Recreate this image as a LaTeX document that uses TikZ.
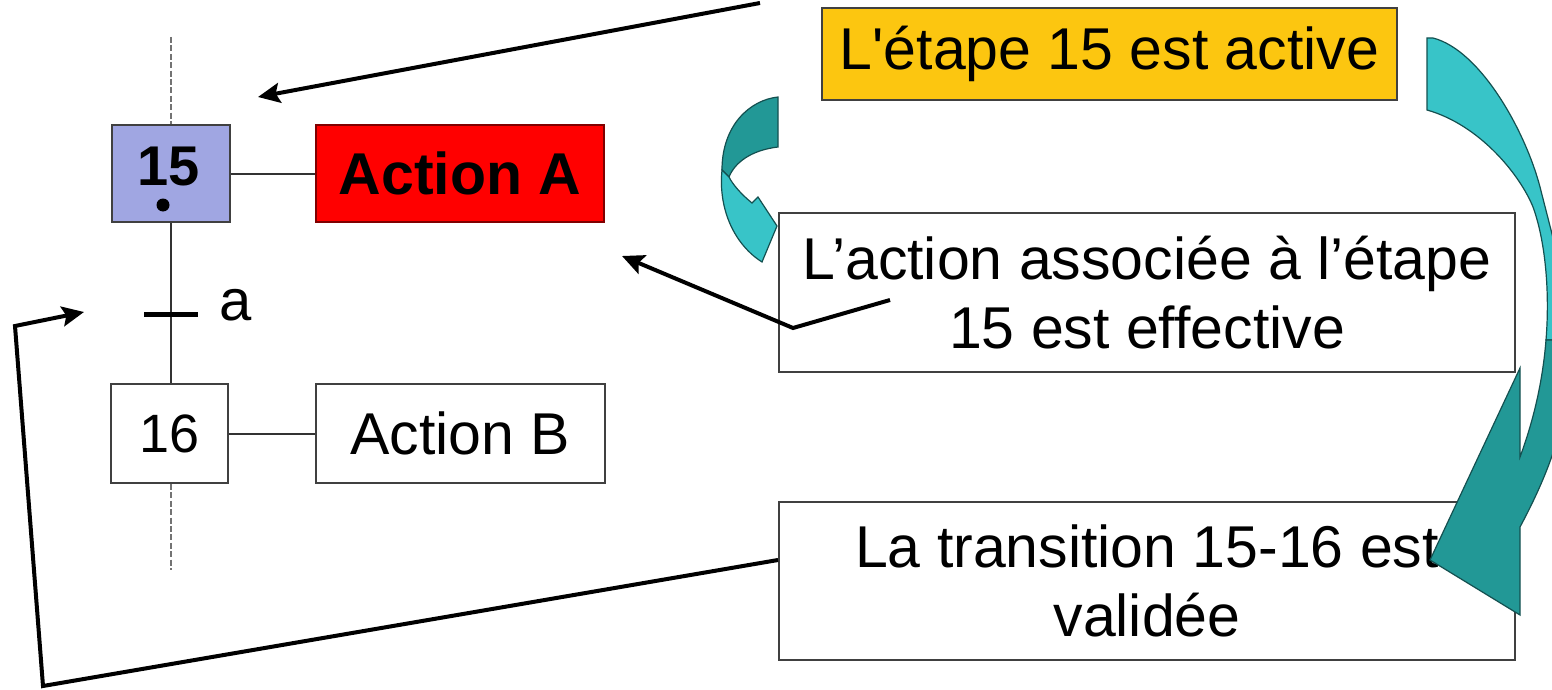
\documentclass[tikz,border=0pt]{standalone}
\usepackage{fontspec}
\newfontfamily\arialf{Liberation Sans}
\usetikzlibrary{arrows.meta}

\definecolor{steplav}{RGB}{160,166,226}
\definecolor{goldbox}{RGB}{252,198,16}
\definecolor{tealL}{RGB}{56,196,200}
\definecolor{tealD}{RGB}{34,152,150}
\definecolor{tealO}{RGB}{20,80,80}

\begin{document}
\begin{tikzpicture}[x=0.5pt,y=-0.5pt,
  box/.style={draw=black!75, line width=1pt, inner sep=0pt, align=center,
    font=\arialf\fontsize{29.5}{34.5}\selectfont},
  numbox/.style={box, font=\arialf\fontsize{27}{30}\selectfont},
  link/.style={draw=black!80, line width=1pt},
  guide/.style={draw=black!55, line width=0.7pt, dash pattern=on 3pt off 1.2pt},
  ptr/.style={line width=2pt, line join=miter,
    -{Stealth[length=11pt,width=10pt,inset=2pt]}},
  ribbon/.style={draw=tealO, line width=0.6pt}]

\clip (0,0) rectangle (1552,690);
\fill[white] (0,0) rectangle (1552,690);

% Grafcet: steps, actions and transition
\node[numbox, fill=steplav, minimum width=59pt, minimum height=48.5pt] (s15) at (171,173.5) {};
\node[font=\arialf\bfseries\fontsize{28}{30}\selectfont] (s15num) at (169,167) {15};
\node[circle, fill=black, inner sep=0pt, minimum size=6.5pt] (tok) at (163,205) {};
\node[box, fill=red, draw=red!50!black, minimum width=144pt, minimum height=48.5pt,
  font=\arialf\bfseries\fontsize{29.5}{34.5}\selectfont] (actA) at (460,173.5) {Action A};
\node[numbox, fill=white, minimum width=58.5pt, minimum height=49.5pt] (s16) at (169.5,433.5) {16};
\node[box, fill=white, minimum width=144.5pt, minimum height=49.5pt] (actB) at (460.5,433.5) {Action B};

\coordinate (upend) at (171,37);
\coordinate (downend) at (171,570);
\coordinate (tr) at (171,314);
\draw[guide] (upend) -- (s15.north -| upend);
\draw[link] (s15.south -| upend) -- (s16.north -| upend);
\draw[guide] (s16.south -| downend) -- (downend);
\draw[line width=2.5pt] ([xshift=-13.5pt]tr) -- ([xshift=13.5pt]tr);
\node[font=\arialf\fontsize{29}{30}\selectfont] (cond) at (236,305) {a};
\draw[link] (s15.east) -- (actA.west);
\draw[link] (s16.east) -- (actB.west);

% Explanation boxes
\node[box, fill=goldbox, minimum width=287.5pt, minimum height=46pt] (active) at (1109.5,54)
  {L'étape 15 est active};
\node[box, fill=white, minimum width=368pt, minimum height=79.5pt] (effective) at (1147,292.5)
  {L’action associée à l’étape\\15 est effective};
\node[box, fill=white, minimum width=368pt, minimum height=79pt] (trans) at (1147,581)
  {La transition 15-16 est\\validée};

% Curved ribbon arrow between the first two boxes
\filldraw[ribbon, fill=tealD] (778,97) .. controls (750,100) and (722,125) .. (722,170)
  -- (729,177) .. controls (735,162) and (752,150) .. (778,147) -- cycle;
\filldraw[ribbon, fill=tealL] (722,170) .. controls (718,210) and (735,245) .. (762,262)
  -- (777,226) -- (758,197) -- (752,203) .. controls (742,195) and (733,185) .. (729,177) -- cycle;

% Large ribbon arrow down the right side
\filldraw[ribbon, fill=tealL] (1427,38) -- (1433,38) .. controls (1480,50) and (1525,130) .. (1540,187)
  .. controls (1556,250) and (1570,300) .. (1572,340) -- (1546,340)
  .. controls (1550,290) and (1545,240) .. (1533,207)
  .. controls (1520,175) and (1480,125) .. (1427,110) -- cycle;
\filldraw[ribbon, fill=tealD] (1520,457) -- (1520,368) -- (1430,560) -- (1520,615) -- (1520,527)
  .. controls (1545,480) and (1572,420) .. (1572,340) -- (1546,340)
  .. controls (1542,390) and (1530,430) .. (1520,457) -- cycle;

% Pointer arrows
\coordinate (topstart) at (760,3);
\coordinate (topend) at (258,97);
\draw[ptr] (topstart) -- (topend);

\coordinate (effstart) at (890,300);
\coordinate (effbend) at (793,328);
\coordinate (effend) at (622,256);
\draw[ptr] (effstart) -- (effbend) -- (effend);

\coordinate (fbcorner1) at (43,686);
\coordinate (fbcorner2) at (15,326);
\coordinate (fbend) at (84,312);
\draw[ptr] ([yshift=10.5pt]trans.west) -- (fbcorner1) -- (fbcorner2) -- (fbend);

\end{tikzpicture}
\end{document}
